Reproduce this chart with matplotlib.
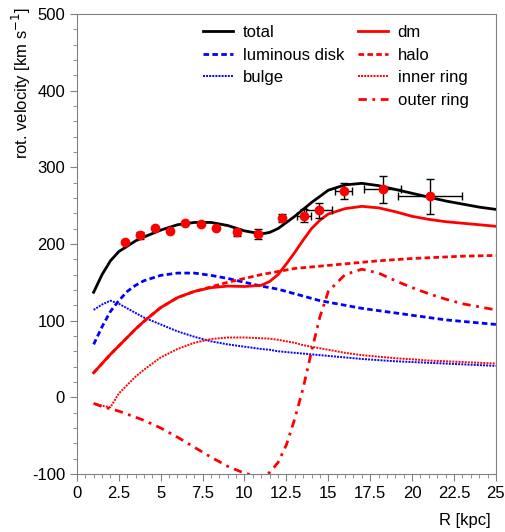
import matplotlib.pyplot as plt
from matplotlib.lines import Line2D
from matplotlib.ticker import MultipleLocator, FuncFormatter

plt.rcParams['font.family'] = ['Liberation Sans', 'DejaVu Sans']
plt.rcParams['axes.unicode_minus'] = False

# model curves
R = [1, 1.5, 2, 2.5, 3, 3.5, 4, 5, 6, 7, 8, 9, 10, 11, 11.5, 12, 12.5, 13,
     13.5, 14, 14.5, 15, 16, 17, 18, 19, 20, 21, 22, 23, 24, 25]
total = [137, 160, 178, 190, 197, 204, 209, 218, 225, 228, 228, 224, 217, 213,
         215, 220, 228, 236, 245, 254, 262, 270, 277, 279, 276, 271, 266, 261,
         256, 252, 248, 245]
dm = [32, 44, 56, 67, 78, 89, 99, 117, 130, 138, 143, 145, 144.5, 146, 151,
      160, 174, 189, 205, 220, 231, 239, 246, 249, 247, 242, 236, 232, 229,
      227, 225, 223]
halo = [32, 44, 56, 67, 78, 89, 99, 117, 130, 138, 144, 150, 155, 160, 162,
        164, 166, 168, 169, 170, 171, 172, 174, 176, 178, 179.5, 181, 182, 183,
        184, 184.5, 185]
disk = [69, 92, 112, 126, 138, 146, 152, 159, 162, 162, 159, 155, 150, 145,
        143, 141, 138, 135, 132, 129, 126, 124, 120, 116, 113, 110, 107, 104,
        101, 99, 97, 95]
bulge = [114, 121, 126, 122, 116, 110, 104, 95, 86, 79, 73, 69, 66, 63, 62,
         60, 59, 58, 57, 56, 55, 54, 52, 50, 48.5, 47, 46, 45, 44, 43, 42, 41]
inner = [-8, -11, -13, 5, 16, 27, 36, 52, 63, 71, 76, 78, 78, 77, 76.5, 75,
         73, 71, 68, 66, 64, 62, 58, 55, 53, 51, 49.5, 48, 47, 46, 45, 44]
outer = [-8, -12, -15, -18, -22, -26, -30, -40, -52, -65, -78, -90, -99,
         -104, -98, -85, -62, -28, 12, 60, 105, 138, 160, 167, 162, 152, 143,
         135, 128, 122, 118, 114]

# measured points
R_obs = [2.86, 3.76, 4.67, 5.57, 6.44, 7.38, 8.27, 9.57, 10.82, 12.21, 13.54,
         14.44, 15.91, 18.26, 21.08]
v_obs = [202, 211, 221, 217, 227, 226, 221, 215, 213, 234, 237, 244, 269, 271,
         262]
v_err = [0, 5, 0, 0, 0, 0, 0, 5, 6, 5, 8, 10, 10, 18, 23]
R_err = [0, 0, 0, 0, 0, 0, 0, 0, 0, 0, 0.4, 0.8, 0.5, 1.1, 1.9]

fig = plt.figure(figsize=(5.06, 5.32), dpi=100)
ax = fig.add_axes([0.152, 0.109, 0.828, 0.865])

h_total, = ax.plot(R, total, color='black', lw=2)
h_disk, = ax.plot(R, disk, color='blue', lw=2, ls=(0, (2, 1.2)))
h_bulge, = ax.plot(R, bulge, color='blue', lw=1.4, ls=(0, (1, 0.6)))
h_dm, = ax.plot(R, dm, color='red', lw=2)
h_halo, = ax.plot(R, halo, color='red', lw=2, ls=(0, (2, 1.2)))
h_inner, = ax.plot(R, inner, color='red', lw=1.4, ls=(0, (1, 0.6)))
h_outer, = ax.plot(R, outer, color='red', lw=2, ls=(0, (3, 2, 1, 2)))

ax.errorbar(R_obs, v_obs, yerr=v_err, xerr=R_err, fmt='none', ecolor='black',
            elinewidth=1, capsize=3, capthick=1, zorder=4)
ax.plot(R_obs, v_obs, 'o', color='red', ms=6, zorder=5)

# empty slot so the right column gets 4 rows and the left 3
blank = Line2D([], [], color='none')
ax.legend([h_total, h_disk, h_bulge, blank, h_dm, h_halo, h_inner, h_outer],
          ['total', 'luminous disk', 'bulge', '', 'dm', 'halo', 'inner ring', 'outer ring'],
          ncol=2, frameon=False, fontsize=12, loc='upper left',
          bbox_to_anchor=(0.285, 0.99), handlelength=1.8, handletextpad=0.6,
          columnspacing=0.8, labelspacing=0.45, borderaxespad=0)

ax.set_xlim(0, 25)
ax.set_ylim(-100, 500)
ax.xaxis.set_major_locator(MultipleLocator(2.5))
ax.xaxis.set_minor_locator(MultipleLocator(0.5))
ax.yaxis.set_major_locator(MultipleLocator(100))
ax.yaxis.set_minor_locator(MultipleLocator(20))
ax.xaxis.set_major_formatter(FuncFormatter(lambda v, p: f'{v:g}'))
ax.tick_params(which='major', direction='out', length=5, color='#808080', labelsize=12)
ax.tick_params(which='minor', direction='out', length=3, color='#808080')
for s in ax.spines.values():
    s.set_color('#808080')

ax.set_ylabel('rot. velocity [km s$^{-1}$]', fontsize=12)
ax.yaxis.set_label_coords(-0.105, 0.85)
ax.set_xlabel('R [kpc]', fontsize=12)
ax.xaxis.set_label_coords(0.925, -0.085)

fig.savefig('out.png', dpi=100)
